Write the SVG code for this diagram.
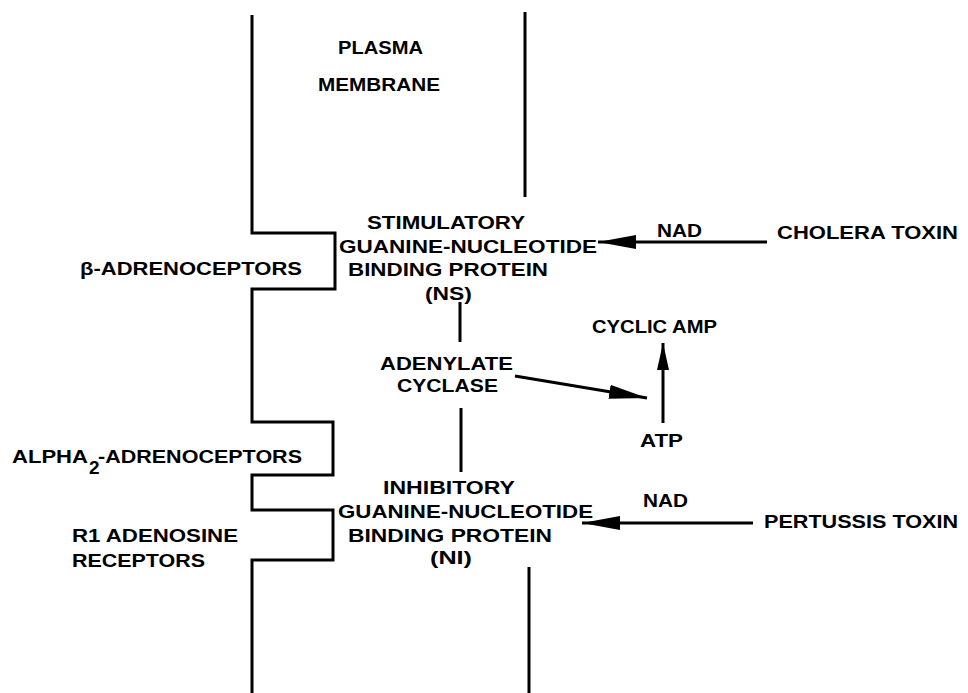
<svg xmlns="http://www.w3.org/2000/svg" width="968" height="693" viewBox="0 0 968 693">
<style>
text{font-family:"Liberation Sans",Arial,sans-serif;font-size:19px;font-weight:bold;fill:#000}
.ln{fill:none;stroke:#000;stroke-width:3;stroke-linejoin:miter}
.ar{fill:none;stroke:#000;stroke-width:3}
</style>
<defs>
<marker id="ahL" markerUnits="userSpaceOnUse" markerWidth="40" markerHeight="16" refX="38" refY="7" orient="auto"><path d="M0,0 L38,7 L0,14 Z" fill="#000"/></marker>
<marker id="ahS" markerUnits="userSpaceOnUse" markerWidth="30" markerHeight="14" refX="27" refY="6" orient="auto"><path d="M0,0 L27,6 L0,12 Z" fill="#000"/></marker>
</defs>
<rect width="968" height="693" fill="#fff"/>
<g id="membrane">
<path class="ln" d="M252,15 V233 H335 V289 H252 V422 H333 V475 H252 V510 H333 V560 H252 V693"/>
<path class="ln" d="M525,12 V197"/>
<path class="ln" d="M529,567 V693"/>
<text x="338" y="54" textLength="85" lengthAdjust="spacingAndGlyphs">PLASMA</text>
<text x="318" y="91" textLength="122" lengthAdjust="spacingAndGlyphs">MEMBRANE</text>
</g>
<g id="ns">
<text x="367" y="229" textLength="158" lengthAdjust="spacingAndGlyphs">STIMULATORY</text>
<text x="339" y="253" textLength="258" lengthAdjust="spacingAndGlyphs">GUANINE-NUCLEOTIDE</text>
<text x="348" y="276" textLength="200" lengthAdjust="spacingAndGlyphs">BINDING PROTEIN</text>
<text x="425" y="300" textLength="47" lengthAdjust="spacingAndGlyphs">(NS)</text>
</g>
<g id="beta">
<text x="80" y="275" textLength="222" lengthAdjust="spacingAndGlyphs">β-ADRENOCEPTORS</text>
</g>
<g id="alpha2">
<text x="12" y="463" textLength="76" lengthAdjust="spacingAndGlyphs">ALPHA</text>
<text x="89" y="474" font-size="14">2</text>
<text x="98" y="463" textLength="204" lengthAdjust="spacingAndGlyphs">-ADRENOCEPTORS</text>
</g>
<g id="r1">
<text x="72" y="542" textLength="166" lengthAdjust="spacingAndGlyphs">R1 ADENOSINE</text>
<text x="72" y="567" textLength="133" lengthAdjust="spacingAndGlyphs">RECEPTORS</text>
</g>
<g id="adenylate">
<text x="380" y="370" textLength="133" lengthAdjust="spacingAndGlyphs">ADENYLATE</text>
<text x="397" y="392" textLength="101" lengthAdjust="spacingAndGlyphs">CYCLASE</text>
</g>
<g id="camp">
<text x="592" y="333" textLength="125" lengthAdjust="spacingAndGlyphs">CYCLIC AMP</text>
</g>
<g id="atp">
<text x="640" y="447" textLength="43" lengthAdjust="spacingAndGlyphs">ATP</text>
</g>
<g id="ni">
<text x="383" y="494" textLength="132" lengthAdjust="spacingAndGlyphs">INHIBITORY</text>
<text x="338" y="518" textLength="255" lengthAdjust="spacingAndGlyphs">GUANINE-NUCLEOTIDE</text>
<text x="348" y="542" textLength="204" lengthAdjust="spacingAndGlyphs">BINDING PROTEIN</text>
<text x="430" y="564" textLength="42" lengthAdjust="spacingAndGlyphs">(NI)</text>
</g>
<g id="cholera">
<text x="777" y="239" textLength="181" lengthAdjust="spacingAndGlyphs">CHOLERA TOXIN</text>
</g>
<g id="pertussis">
<text x="764" y="528" textLength="194" lengthAdjust="spacingAndGlyphs">PERTUSSIS TOXIN</text>
</g>
<g id="connectors">
<line class="ar" x1="460" y1="302" x2="460" y2="342"/>
<line class="ar" x1="461" y1="408" x2="461" y2="472"/>
<line class="ar" x1="515" y1="376" x2="647" y2="398" marker-end="url(#ahL)"/>
<line class="ar" x1="663" y1="423" x2="663" y2="343" marker-end="url(#ahS)"/>
<line class="ar" x1="767" y1="242" x2="598" y2="242" marker-end="url(#ahL)"/>
<line class="ar" x1="753" y1="523" x2="582" y2="523" marker-end="url(#ahL)"/>
<text x="657" y="237" textLength="45" lengthAdjust="spacingAndGlyphs">NAD</text>
<text x="643" y="507" textLength="45" lengthAdjust="spacingAndGlyphs">NAD</text>
</g>
</svg>
